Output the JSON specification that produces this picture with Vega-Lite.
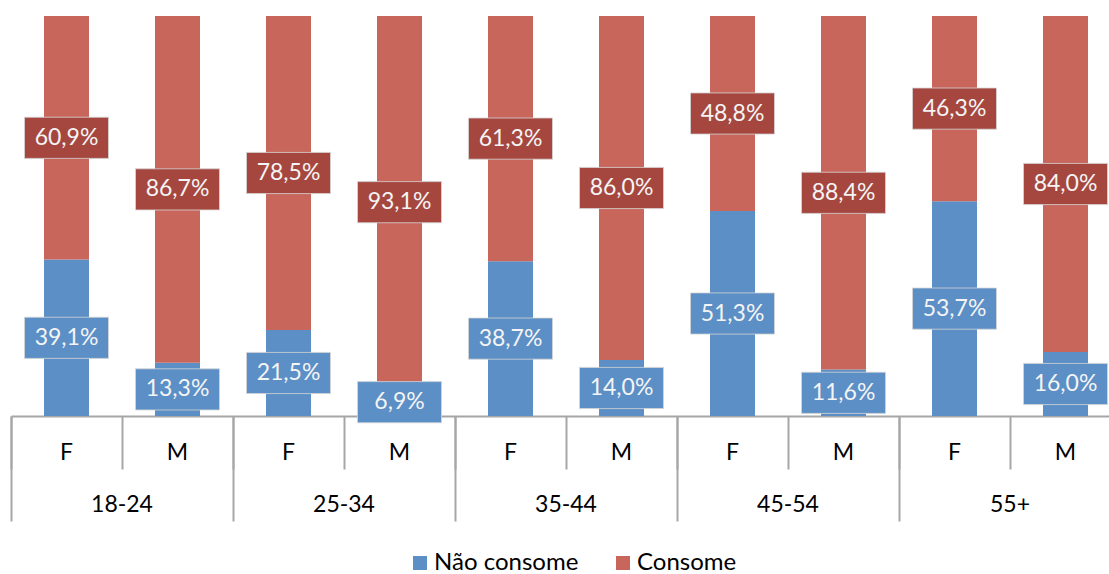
{
  "$schema": "https://vega.github.io/schema/vega-lite/v6.json",
  "width": 1110,
  "height": 400,
  "autosize": {"type": "none"},
  "padding": {"left": 11, "top": 16, "right": 0, "bottom": 158},
  "config": {
    "view": {"stroke": null},
    "font": "Lato",
    "locale": {"number": {"decimal": ",", "thousands": ".", "grouping": [3], "currency": ["R$", ""]}}
  },
  "data": {
    "values": [
      {"faixa": "18-24", "sexo": "F", "barra": "18-24 F", "serie": "Não consome", "pct": 0.391},
      {"faixa": "18-24", "sexo": "F", "barra": "18-24 F", "serie": "Consome", "pct": 0.609},
      {"faixa": "18-24", "sexo": "M", "barra": "18-24 M", "serie": "Não consome", "pct": 0.133},
      {"faixa": "18-24", "sexo": "M", "barra": "18-24 M", "serie": "Consome", "pct": 0.867},
      {"faixa": "25-34", "sexo": "F", "barra": "25-34 F", "serie": "Não consome", "pct": 0.215},
      {"faixa": "25-34", "sexo": "F", "barra": "25-34 F", "serie": "Consome", "pct": 0.785},
      {"faixa": "25-34", "sexo": "M", "barra": "25-34 M", "serie": "Não consome", "pct": 0.069},
      {"faixa": "25-34", "sexo": "M", "barra": "25-34 M", "serie": "Consome", "pct": 0.931},
      {"faixa": "35-44", "sexo": "F", "barra": "35-44 F", "serie": "Não consome", "pct": 0.387},
      {"faixa": "35-44", "sexo": "F", "barra": "35-44 F", "serie": "Consome", "pct": 0.613},
      {"faixa": "35-44", "sexo": "M", "barra": "35-44 M", "serie": "Não consome", "pct": 0.140},
      {"faixa": "35-44", "sexo": "M", "barra": "35-44 M", "serie": "Consome", "pct": 0.860},
      {"faixa": "45-54", "sexo": "F", "barra": "45-54 F", "serie": "Não consome", "pct": 0.513},
      {"faixa": "45-54", "sexo": "F", "barra": "45-54 F", "serie": "Consome", "pct": 0.488},
      {"faixa": "45-54", "sexo": "M", "barra": "45-54 M", "serie": "Não consome", "pct": 0.116},
      {"faixa": "45-54", "sexo": "M", "barra": "45-54 M", "serie": "Consome", "pct": 0.884},
      {"faixa": "55+", "sexo": "F", "barra": "55+ F", "serie": "Não consome", "pct": 0.537},
      {"faixa": "55+", "sexo": "F", "barra": "55+ F", "serie": "Consome", "pct": 0.463},
      {"faixa": "55+", "sexo": "M", "barra": "55+ M", "serie": "Não consome", "pct": 0.160},
      {"faixa": "55+", "sexo": "M", "barra": "55+ M", "serie": "Consome", "pct": 0.840}
    ]
  },
  "layer": [
    {
      "mark": {"type": "bar", "width": 45},
      "encoding": {
        "x": {
          "field": "barra",
          "type": "nominal",
          "sort": null,
          "scale": {"paddingInner": 0, "paddingOuter": 0},
          "axis": {
            "orient": "bottom",
            "title": null,
            "bandPosition": 0,
            "domainColor": "#A6A6A6",
            "domainWidth": 2,
            "tickColor": "#A6A6A6",
            "tickWidth": 2,
            "tickSize": 53,
            "labelExpr": "split(datum.value, ' ')[1]",
            "labelAngle": 0,
            "labelFont": "Lato",
            "labelFontSize": 23,
            "labelColor": "#000000",
            "labelBaseline": "middle",
            "labelPadding": -17
          }
        },
        "y": {"field": "pct", "type": "quantitative", "stack": "normalize", "axis": null},
        "color": {
          "field": "serie",
          "type": "nominal",
          "scale": {"domain": ["Não consome", "Consome"], "range": ["#5B8FC6", "#C9665B"]},
          "legend": {
            "title": null,
            "orient": "none",
            "direction": "horizontal",
            "legendX": 397,
            "legendY": 535,
            "padding": 0,
            "symbolType": "square",
            "symbolSize": 196,
            "symbolStrokeWidth": 0,
            "labelFont": "Lato",
            "labelFontSize": 24,
            "labelColor": "#000000",
            "labelOffset": 2,
            "columnPadding": 32
          }
        },
        "order": {"field": "serie", "sort": "descending"}
      }
    },
    {
      "encoding": {
        "x": {
          "field": "faixa",
          "type": "nominal",
          "sort": null,
          "scale": {"paddingInner": 0, "paddingOuter": 0},
          "axis": {
            "orient": "bottom",
            "title": null,
            "bandPosition": 0,
            "domain": false,
            "tickColor": "#A6A6A6",
            "tickWidth": 2,
            "tickSize": 105,
            "labelAngle": 0,
            "labelFont": "Lato",
            "labelFontSize": 23,
            "labelColor": "#000000",
            "labelBaseline": "middle",
            "labelPadding": -17
          }
        },
        "xOffset": {"field": "sexo", "type": "nominal", "scale": {"type": "point", "padding": 0.5}},
        "y": {"field": "pct", "type": "quantitative", "stack": "normalize", "bandPosition": 0.5},
        "detail": {"field": "serie"},
        "order": {"field": "serie", "sort": "descending"}
      },
      "layer": [
        {
          "mark": {
            "type": "point",
            "shape": "M-1,-0.49H1V0.49H-1Z",
            "size": 7056,
            "filled": true,
            "opacity": 1,
            "stroke": "#D5D5D5",
            "strokeWidth": 0.8
          },
          "encoding": {
            "fill": {"condition": {"test": "datum.serie === 'Consome'", "value": "#A5473F"}, "value": "#5B8FC6"}
          }
        },
        {
          "mark": {"type": "text", "font": "Lato", "fontSize": 23, "color": "#F4F4F4", "baseline": "middle"},
          "encoding": {"text": {"field": "pct", "type": "quantitative", "format": ".1%"}}
        }
      ]
    }
  ],
  "resolve": {"scale": {"x": "independent"}}
}
